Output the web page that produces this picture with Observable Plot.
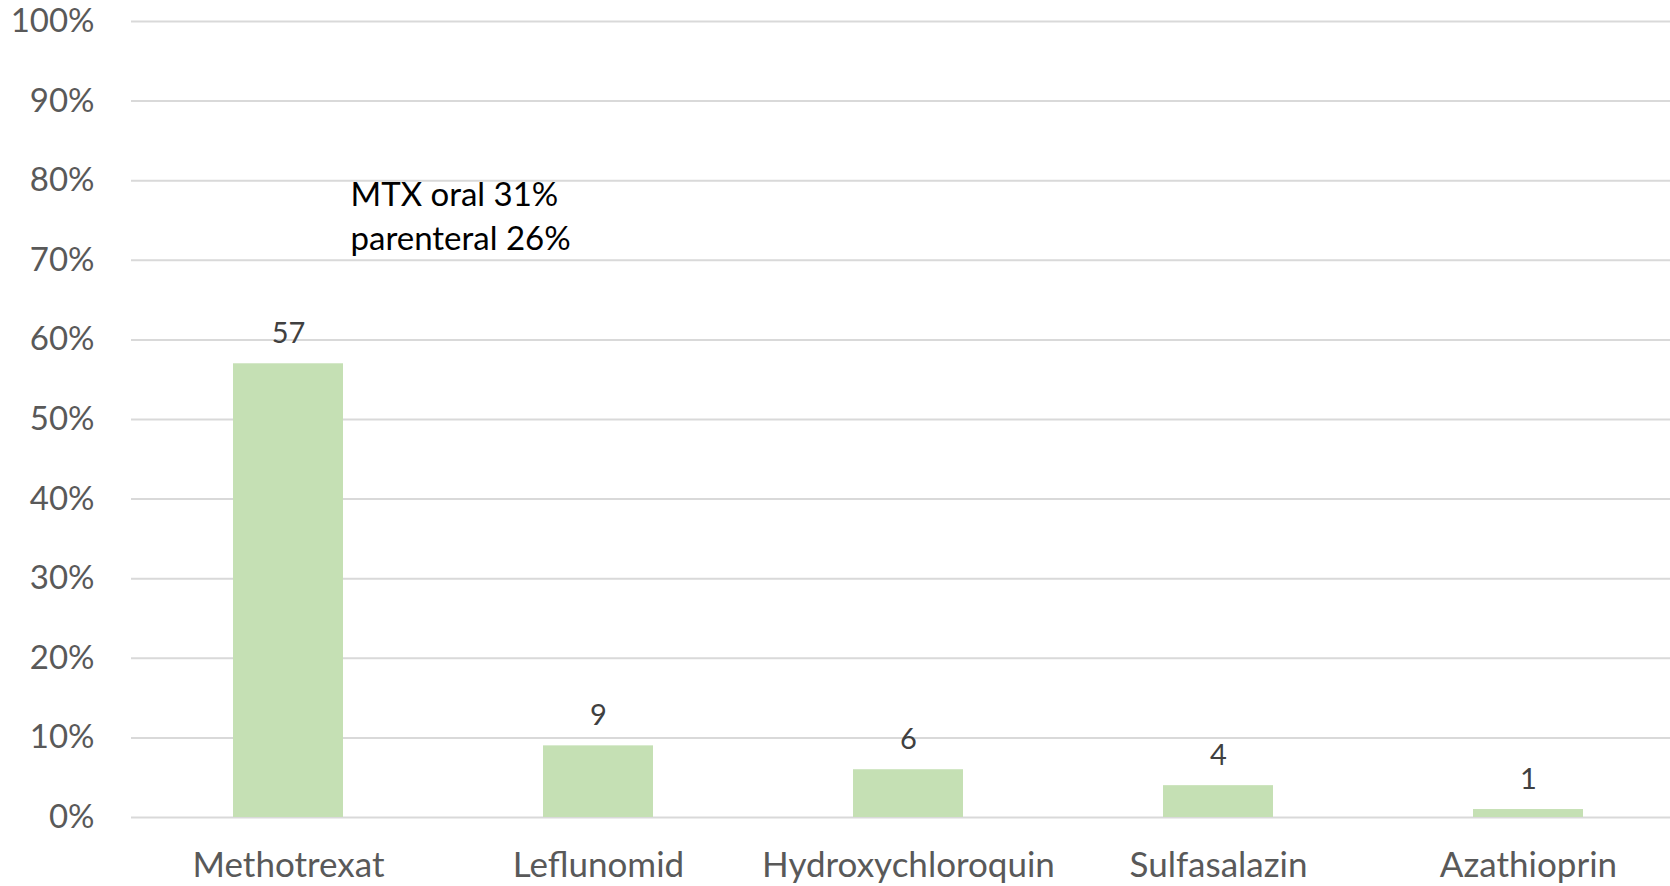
<!DOCTYPE html>
<html>
<head>
<meta charset="utf-8">
<script src="https://cdn.jsdelivr.net/npm/d3@7"></script>
<script src="https://cdn.jsdelivr.net/npm/@observablehq/plot@0.6"></script>
<style>
  html, body { margin: 0; padding: 0; background: #fff; overflow: hidden; }
  #chart svg { display: block; max-width: none !important; }
</style>
</head>
<body>
<div id="chart"></div>
<script>
const categories = ["Methotrexat", "Leflunomid", "Hydroxychloroquin", "Sulfasalazin", "Azathioprin"];
const values = [57, 9, 6, 4, 1];
const yTicks = [0, 10, 20, 30, 40, 50, 60, 70, 80, 90, 100];
const annotationLines = ["MTX oral 31%", "parenteral 26%"];
const annotationY = [78.2, 72.6];

const data = categories.map((c, i) => ({category: c, value: values[i]}));
const annot = annotationLines.map((t, i) => ({text: t, y: annotationY[i], category: categories[0]}));

const chart = Plot.plot({
  width: 1685,
  height: 886,
  marginTop: 21,
  marginBottom: 69,
  marginLeft: 131,
  marginRight: 0,
  style: {fontFamily: "Lato, sans-serif", background: "#fff"},
  x: {
    domain: categories,
    paddingInner: 0.646,
    paddingOuter: 0.323,
    label: null,
    tickSize: 0,
    tickPadding: 35
  },
  y: {
    domain: [0, 100],
    ticks: yTicks,
    label: null,
    tickSize: 0,
    tickPadding: 37,
    tickFormat: d => d + "%"
  },
  marks: [
    Plot.ruleY(yTicks, {stroke: "#D9D9D9", strokeWidth: 2}),
    Plot.barY(data, {x: "category", y: "value", fill: "#C5E0B4"}),
    Plot.text(data, {x: "category", y: "value", text: d => String(d.value), dy: -30, fontSize: 29, fill: "#404040"}),
    Plot.text(annot, {x: "category", y: "y", text: "text", dx: 62, textAnchor: "start", fontSize: 33, fill: "#000"}),
    Plot.axisY({ticks: yTicks, tickSize: 0, tickPadding: 37, tickFormat: d => d + "%", fontSize: 33, fill: "#595959", label: null}),
    Plot.axisX({tickSize: 0, tickPadding: 35, fontSize: 35, fill: "#595959", label: null})
  ]
});
document.getElementById("chart").appendChild(chart);
</script>
</body>
</html>
